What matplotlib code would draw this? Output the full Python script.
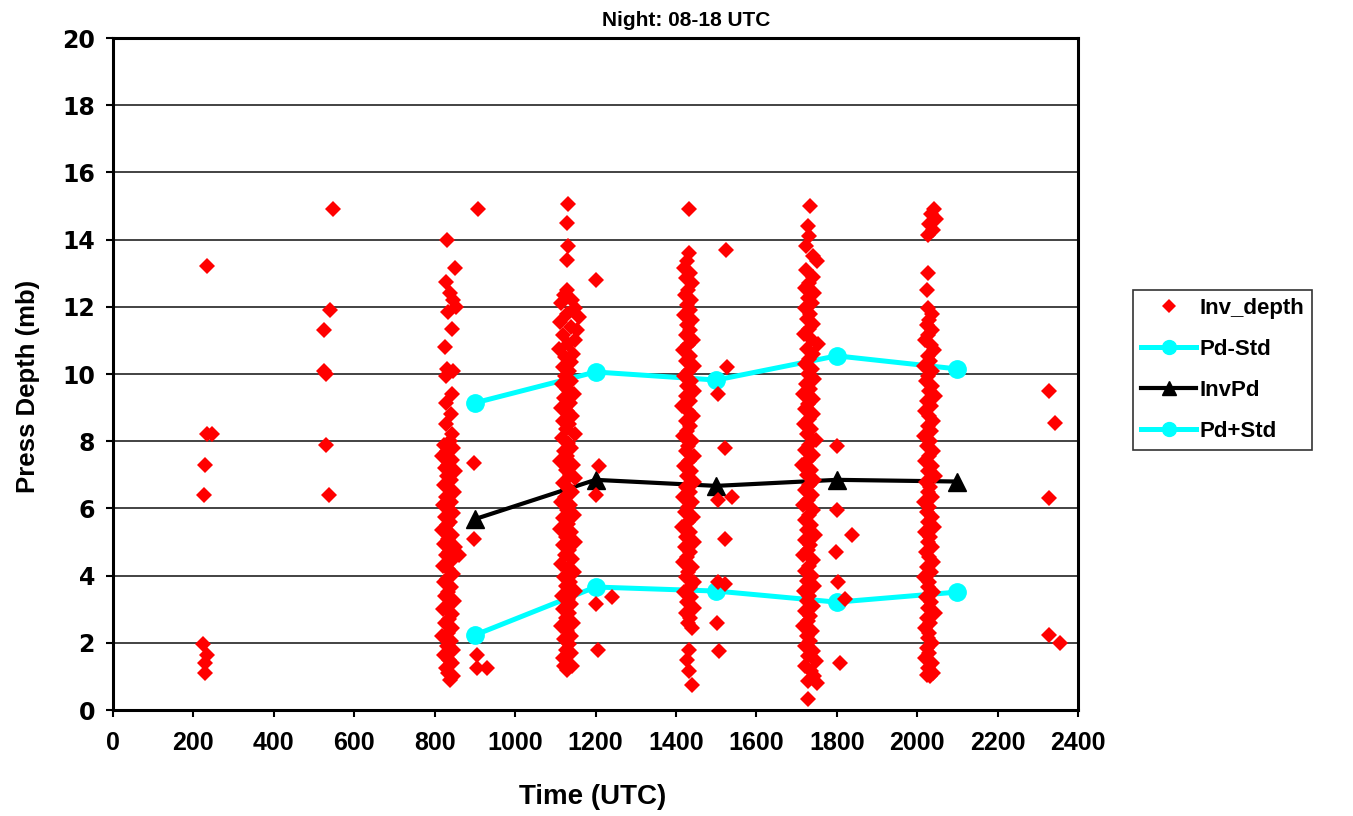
import matplotlib
matplotlib.use("Agg")
import matplotlib.pyplot as plt
from matplotlib.lines import Line2D

# ---------------- data ----------------
line_times = [900, 1200, 1500, 1800, 2100]
pd_minus_std = [9.14, 10.06, 9.82, 10.54, 10.15]   # upper cyan
inv_pd = [5.68, 6.85, 6.67, 6.85, 6.8]              # black
pd_plus_std = [2.23, 3.66, 3.54, 3.21, 3.51]        # lower cyan

x_ticks = list(range(0, 2401, 200))
y_ticks = list(range(0, 21, 2))

# Inv_depth scatter, grouped by where they sit on the chart
early_pts = [(233, 13.2), (233, 8.2), (246, 8.2), (230, 7.3), (227, 6.4),
             (225, 1.95), (235, 1.65), (230, 1.4), (228, 1.1),
             (547, 14.9), (540, 11.9), (525, 11.3), (525, 10.1), (530, 10.0),
             (529, 7.9), (536, 6.4)]

late_pts = [(2329, 9.5), (2342, 8.55), (2329, 6.3), (2329, 2.24), (2356, 2.0)]

colA_pts = [(830, 14.0), (850, 13.15), (828, 12.75), (838, 12.4), (846, 12.2), (852, 12.0),
            (832, 11.85), (844, 11.35), (826, 10.8), (830, 10.15), (846, 10.1), (828, 9.95),
            (842, 9.4), (828, 9.15), (840, 8.8), (828, 8.5), (842, 8.2),
            (838, 8.0), (824, 7.9), (846, 7.8), (830, 7.7), (818, 7.55), (842, 7.45), (834, 7.3),
            (826, 7.2), (850, 7.1), (830, 6.95), (840, 6.85), (822, 6.7), (836, 6.6), (848, 6.5),
            (828, 6.35), (840, 6.2), (820, 6.1), (834, 6.0), (846, 5.85), (826, 5.75), (838, 5.6),
            (830, 5.5), (818, 5.35), (844, 5.2), (832, 5.1), (824, 4.95), (850, 4.85), (836, 4.7),
            (828, 4.6), (842, 4.45), (820, 4.3), (834, 4.2), (846, 4.05), (830, 3.9), (822, 3.8),
            (840, 3.65), (834, 3.5), (826, 3.4), (848, 3.25), (830, 3.1), (820, 3.0), (842, 2.85),
            (836, 2.7), (826, 2.6), (844, 2.45), (832, 2.3), (818, 2.2), (840, 2.05), (830, 1.9),
            (846, 1.8), (824, 1.65), (836, 1.5), (842, 1.4), (828, 1.25), (834, 1.1), (846, 1.0),
            (838, 0.9)]
colA_side = [(909, 14.9), (860, 4.6), (898, 7.35), (898, 5.1), (905, 1.65), (905, 1.25), (930, 1.25)]

colB_pts = [(1131, 15.05), (1128, 14.5), (1131, 13.8), (1128, 13.4),
            (1130, 12.5), (1122, 12.35), (1142, 12.2), (1115, 12.1), (1150, 11.95), (1128, 11.8),
            (1158, 11.7), (1112, 11.55), (1140, 11.4), (1155, 11.3), (1120, 11.15), (1148, 11.0),
            (1132, 10.9), (1110, 10.75), (1145, 10.6), (1125, 10.5), (1138, 10.35), (1118, 10.2),
            (1134, 10.1), (1124, 9.95), (1140, 9.8), (1116, 9.7), (1130, 9.55), (1146, 9.4),
            (1122, 9.3), (1136, 9.15), (1114, 9.0), (1128, 8.9), (1142, 8.75), (1120, 8.6),
            (1134, 8.5), (1126, 8.35), (1148, 8.2), (1116, 8.1), (1132, 7.95), (1140, 7.8),
            (1122, 7.7), (1130, 7.55), (1112, 7.4), (1144, 7.3), (1126, 7.15), (1136, 7.0),
            (1150, 6.9), (1118, 6.75), (1132, 6.6), (1142, 6.5), (1124, 6.35), (1114, 6.2),
            (1136, 6.1), (1128, 5.95), (1146, 5.8), (1120, 5.7), (1132, 5.55), (1112, 5.4),
            (1140, 5.3), (1126, 5.15), (1148, 5.0), (1118, 4.9), (1134, 4.75), (1124, 4.6),
            (1142, 4.5), (1114, 4.35), (1130, 4.2), (1146, 4.1), (1122, 3.95), (1136, 3.8),
            (1126, 3.7), (1148, 3.55), (1116, 3.4), (1132, 3.3), (1140, 3.15), (1120, 3.0),
            (1134, 2.9), (1126, 2.75), (1144, 2.6), (1114, 2.5), (1130, 2.35), (1138, 2.2),
            (1122, 2.1), (1134, 1.95), (1126, 1.8), (1140, 1.7), (1118, 1.55), (1132, 1.4),
            (1122, 1.3), (1142, 1.3), (1128, 1.2)]
colB_side = [(1201, 12.8), (1208, 7.25), (1201, 6.4), (1201, 3.15), (1240, 3.35), (1206, 1.8)]

colC_pts = [(1432, 14.9), (1432, 13.6),
            (1428, 13.35), (1420, 13.15), (1436, 13.0), (1426, 12.85), (1440, 12.7), (1430, 12.5),
            (1422, 12.35), (1438, 12.2), (1428, 12.05), (1434, 11.9), (1420, 11.75), (1440, 11.6),
            (1428, 11.45), (1436, 11.3), (1424, 11.15), (1442, 11.0), (1430, 10.85), (1418, 10.7),
            (1436, 10.55), (1426, 10.4), (1444, 10.25), (1432, 10.1), (1420, 9.95), (1438, 9.8),
            (1428, 9.65), (1446, 9.5), (1424, 9.35), (1436, 9.2), (1416, 9.05), (1430, 8.9),
            (1442, 8.75), (1424, 8.6), (1436, 8.45), (1428, 8.3), (1418, 8.15), (1440, 8.0),
            (1430, 7.85), (1424, 7.7), (1444, 7.55), (1432, 7.4), (1420, 7.25), (1438, 7.1),
            (1428, 6.95), (1446, 6.8), (1424, 6.65), (1434, 6.5), (1418, 6.35), (1440, 6.2),
            (1430, 6.05), (1422, 5.9), (1442, 5.75), (1430, 5.6), (1416, 5.45), (1436, 5.3),
            (1426, 5.15), (1444, 5.0), (1422, 4.85), (1434, 4.7), (1428, 4.55), (1418, 4.4),
            (1440, 4.25), (1430, 4.1), (1424, 3.95), (1446, 3.8), (1434, 3.65), (1420, 3.5),
            (1438, 3.35), (1428, 3.2), (1444, 3.05), (1424, 2.9), (1436, 2.75), (1430, 2.6),
            (1440, 2.45),
            (1432, 1.8), (1428, 1.5), (1432, 1.15), (1440, 0.75)]
colC_side = [(1525, 13.7), (1527, 10.2), (1505, 9.4), (1522, 7.8), (1505, 6.25), (1539, 6.35),
             (1522, 5.1), (1505, 3.8), (1522, 3.75), (1503, 2.6), (1507, 1.75)]

colD_pts = [(1733, 15.0), (1728, 14.4), (1730, 14.1), (1724, 13.8), (1740, 13.5), (1752, 13.35),
            (1724, 13.1), (1742, 12.9),
            (1730, 12.7), (1722, 12.55), (1744, 12.4), (1728, 12.25), (1738, 12.1), (1720, 11.95),
            (1734, 11.8), (1726, 11.65), (1742, 11.5), (1730, 11.35), (1718, 11.2), (1736, 11.05),
            (1754, 10.9), (1726, 10.75), (1740, 10.6), (1730, 10.45), (1720, 10.3), (1738, 10.15),
            (1728, 10.0), (1744, 9.85), (1724, 9.7), (1734, 9.55), (1716, 9.4), (1740, 9.25),
            (1728, 9.1), (1722, 8.95), (1742, 8.8), (1732, 8.65), (1718, 8.5), (1736, 8.35),
            (1726, 8.2), (1748, 8.05), (1730, 7.9), (1720, 7.75), (1740, 7.6), (1728, 7.45),
            (1714, 7.3), (1736, 7.15), (1726, 7.0), (1744, 6.85), (1732, 6.7), (1720, 6.55),
            (1738, 6.4), (1728, 6.25), (1716, 6.1), (1742, 5.95), (1730, 5.8), (1722, 5.65),
            (1736, 5.5), (1726, 5.35), (1746, 5.2), (1720, 5.05), (1734, 4.9), (1728, 4.75),
            (1716, 4.6), (1740, 4.45), (1730, 4.3), (1722, 4.15), (1738, 4.0), (1726, 3.85),
            (1744, 3.7), (1718, 3.55), (1732, 3.4), (1726, 3.25), (1740, 3.1), (1720, 2.95),
            (1734, 2.8), (1728, 2.65), (1716, 2.5), (1738, 2.35), (1726, 2.2), (1734, 2.05),
            (1722, 1.9), (1740, 1.75), (1728, 1.6), (1748, 1.45), (1722, 1.3), (1736, 1.15),
            (1744, 1.0), (1728, 0.85), (1750, 0.8), (1729, 0.33)]
colD_side = [(1800, 7.85), (1800, 5.95), (1837, 5.2), (1798, 4.7), (1804, 3.8), (1820, 3.3),
             (1808, 1.4)]

colE_pts = [(2042, 14.9), (2034, 14.77), (2046, 14.6), (2029, 14.45), (2040, 14.28), (2026, 14.15),
            (2028, 13.0), (2024, 12.5), (2028, 11.95), (2036, 11.8), (2030, 11.6),
            (2024, 11.45), (2036, 11.3), (2028, 11.15), (2020, 11.0), (2034, 10.85), (2042, 10.7),
            (2026, 10.55), (2032, 10.4), (2018, 10.25), (2038, 10.1), (2028, 9.95), (2022, 9.8),
            (2036, 9.65), (2030, 9.5), (2044, 9.35), (2024, 9.2), (2034, 9.05), (2020, 8.9),
            (2030, 8.75), (2040, 8.6), (2026, 8.45), (2034, 8.3), (2018, 8.15), (2032, 8.0),
            (2024, 7.85), (2040, 7.7), (2030, 7.55), (2020, 7.4), (2036, 7.25), (2028, 7.1),
            (2044, 6.95), (2022, 6.8), (2032, 6.65), (2026, 6.5), (2038, 6.35), (2018, 6.2),
            (2030, 6.05), (2024, 5.9), (2036, 5.75), (2028, 5.6), (2042, 5.45), (2020, 5.3),
            (2032, 5.15), (2026, 5.0), (2038, 4.85), (2022, 4.7), (2030, 4.55), (2040, 4.4),
            (2024, 4.25), (2034, 4.1), (2018, 3.95), (2030, 3.8), (2026, 3.65), (2040, 3.5),
            (2022, 3.35), (2034, 3.2), (2028, 3.05), (2044, 2.9), (2024, 2.75), (2032, 2.6),
            (2020, 2.45), (2030, 2.3), (2026, 2.15), (2036, 2.0), (2024, 1.85), (2030, 1.7),
            (2020, 1.55), (2036, 1.4), (2028, 1.25), (2040, 1.1), (2032, 1.0), (2024, 1.05)]

all_pts = (early_pts + colA_pts + colA_side + colB_pts + colB_side + colC_pts + colC_side
           + colD_pts + colD_side + colE_pts + late_pts)
inv_x = [p[0] for p in all_pts]
inv_y = [p[1] for p in all_pts]

# ---------------- styling ----------------
ARIAL = ['Liberation Sans', 'DejaVu Sans']
WIDE = ['DejaVu Sans']

W, H = 1353, 816
fig = plt.figure(figsize=(W / 100, H / 100), dpi=100)
ax = fig.add_axes([113 / W, 1 - 710 / H, (1078 - 113) / W, (710 - 38) / H])

cyan = '#00FFFF'
ax.plot(line_times, pd_minus_std, color=cyan, lw=3.6, marker='o', ms=12.5, zorder=2)
ax.plot(line_times, inv_pd, color='black', lw=3.0, marker='^', ms=12.5, zorder=2)
ax.plot(line_times, pd_plus_std, color=cyan, lw=3.6, marker='o', ms=12.5, zorder=2)
ax.plot(inv_x, inv_y, linestyle='none', marker='D', ms=8.5, color='#FF0000',
        markeredgewidth=0, zorder=3)

ax.set_xlim(0, 2400)
ax.set_ylim(0, 20)
ax.set_xticks(x_ticks)
ax.set_yticks(y_ticks)
ax.set_xticklabels([str(t) for t in x_ticks], fontsize=18, fontweight='bold', family=ARIAL)
ax.set_yticklabels([str(t) for t in y_ticks], fontsize=17, fontweight='bold', family=WIDE)
ax.tick_params(axis='both', direction='out', length=5, width=1.5, color='black')
ax.tick_params(axis='x', pad=10)
ax.tick_params(axis='y', pad=8)
ax.yaxis.grid(True, color='#222222', lw=1.2)
ax.set_axisbelow(True)
for s in ax.spines.values():
    s.set_linewidth(2.2)
    s.set_color('black')

fig.text(686 / W, 1 - 21 / H, 'Night: 08-18 UTC', ha='center', va='center',
         fontsize=15, fontweight='bold', family=ARIAL)
fig.text(593 / W, 1 - 797 / H, 'Time (UTC)', ha='center', va='center',
         fontsize=20, fontweight='bold', family=ARIAL)
fig.text(28 / W, 1 - 386 / H, 'Press Depth (mb)', ha='center', va='center', rotation=90,
         fontsize=18.5, fontweight='bold', family=ARIAL)

handles = [
    Line2D([], [], linestyle='none', marker='D', ms=7, color='#FF0000', markeredgewidth=0),
    Line2D([], [], color=cyan, lw=3.6, marker='o', ms=10),
    Line2D([], [], color='black', lw=3.0, marker='^', ms=10),
    Line2D([], [], color=cyan, lw=3.6, marker='o', ms=10),
]
labels = ['Inv_depth', 'Pd-Std', 'InvPd', 'Pd+Std']
leg = fig.legend(handles, labels, loc='upper left', bbox_to_anchor=(1133 / W, 1 - 290 / H),
                 frameon=True, fancybox=False, shadow=False, edgecolor='black',
                 prop={'family': ARIAL, 'weight': 'bold', 'size': 16},
                 handlelength=2.5, handletextpad=0.15, labelspacing=0.9,
                 borderpad=0.35, borderaxespad=0)
leg.get_frame().set_linewidth(1.2)

fig.savefig('out.png', dpi=100)
